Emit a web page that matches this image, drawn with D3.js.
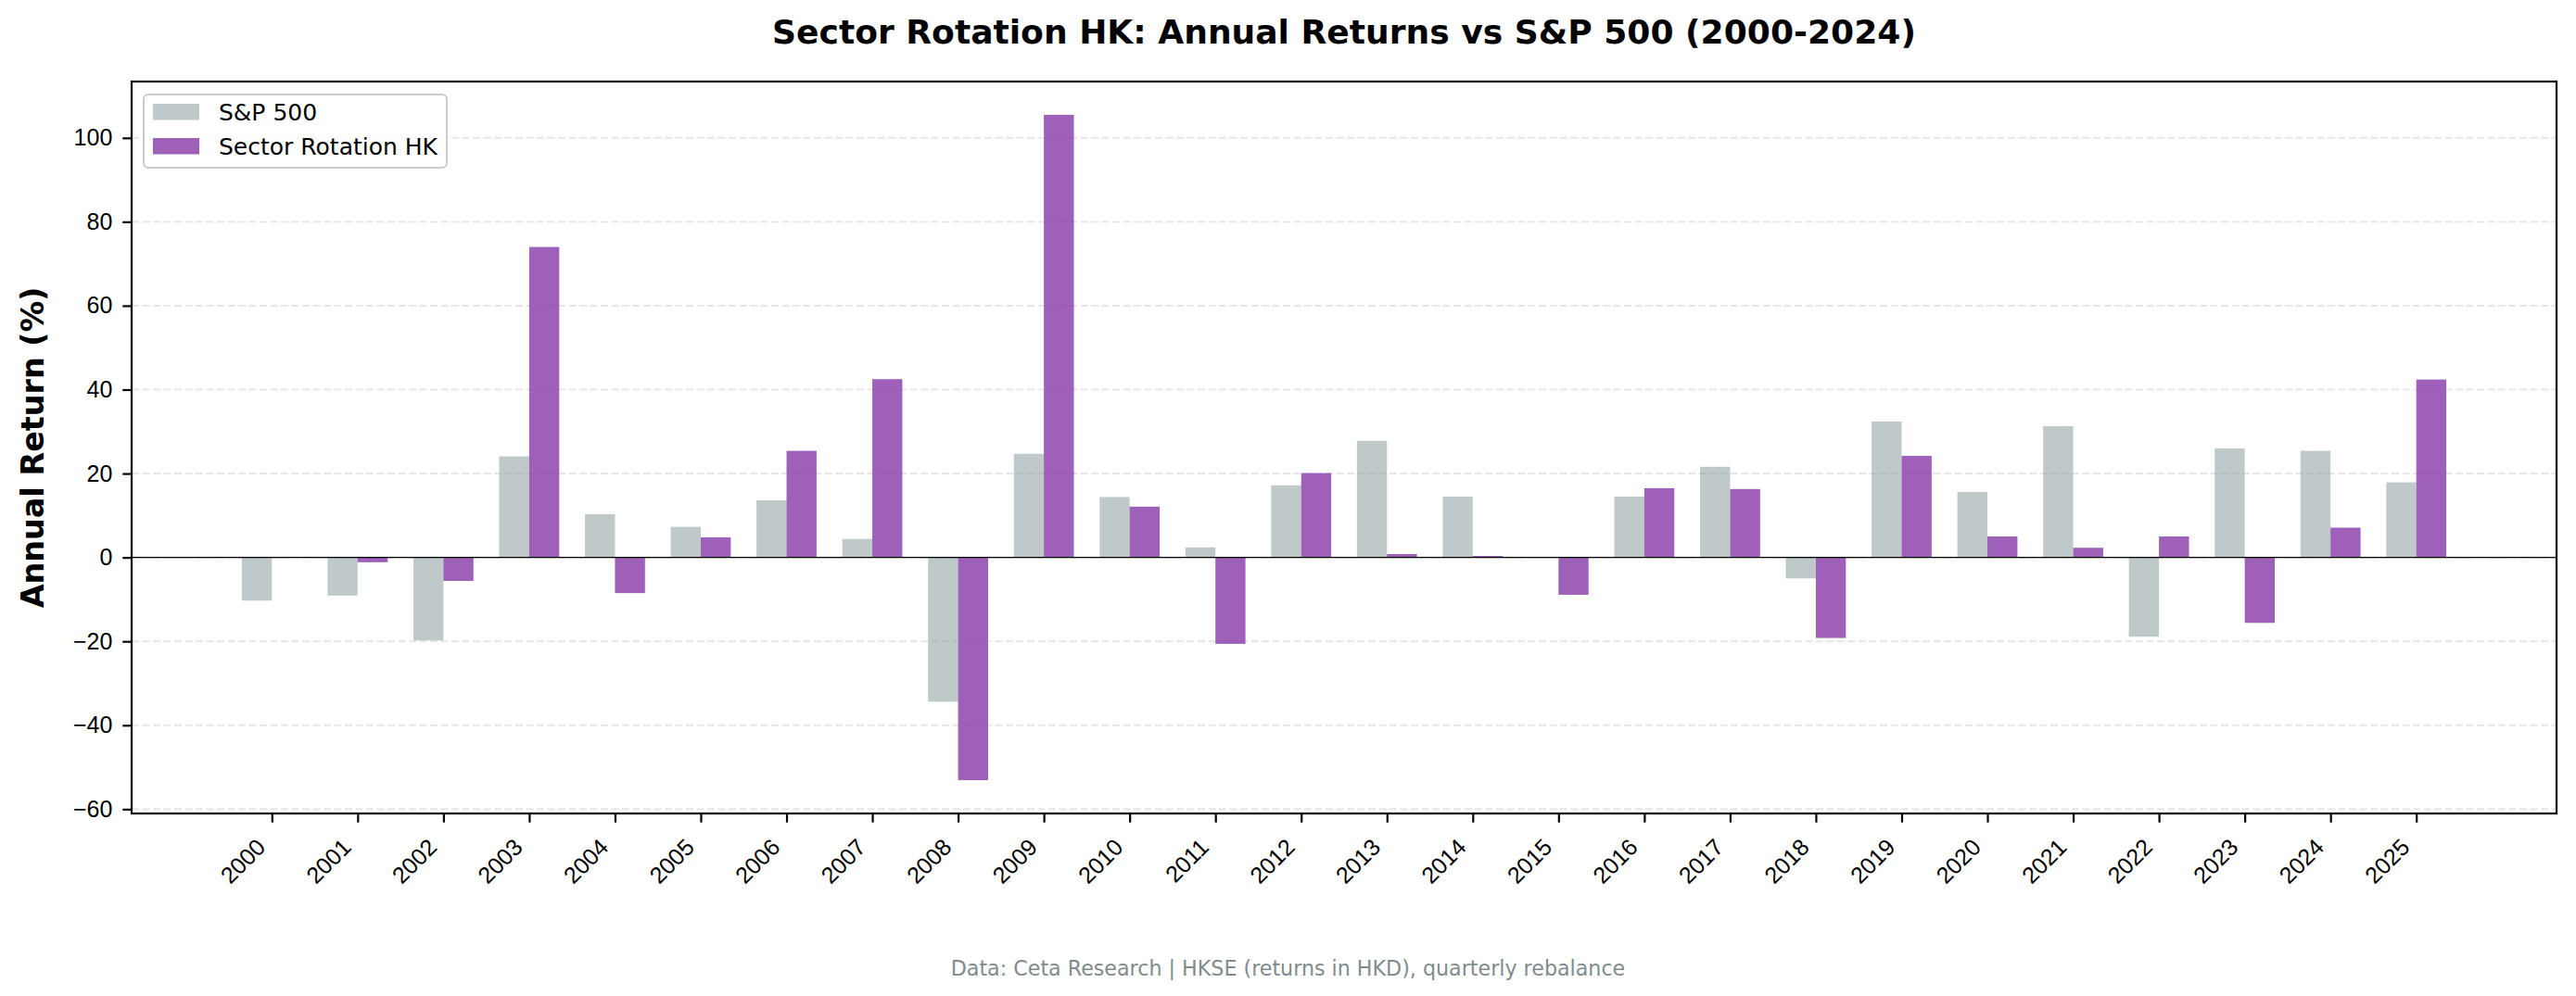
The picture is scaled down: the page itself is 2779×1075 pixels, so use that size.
<!DOCTYPE html>
<html>
<head>
    <script src="https://cdnjs.cloudflare.com/ajax/libs/d3/7.8.5/d3.min.js"></script>
    <style>
        body, html {
            margin: 0;
            padding: 0;
            background: #fff;
            overflow: hidden;
        }
        svg {
            display: block;
            font-family: "DejaVu Sans", sans-serif;
        }
        .grid line {
            stroke: #b0b0b0;
            stroke-opacity: 0.3;
            stroke-width: 2;
            stroke-dasharray: 8, 3.5;
        }
        .axis path, .axis line {
            stroke: #000;
            stroke-width: 2.2;
        }
        .axis text {
            font-size: 25px;
            fill: #000;
        }
    </style>
</head>
<body>
    <svg></svg>
    <script>
        // chart data
        const years = ["2000", "2001", "2002", "2003", "2004", "2005", "2006", "2007", "2008", "2009",
                       "2010", "2011", "2012", "2013", "2014", "2015", "2016", "2017", "2018", "2019",
                       "2020", "2021", "2022", "2023", "2024", "2025"];
        const spReturns = [-10.3, -9.1, -19.8, 24.1, 10.3, 7.3, 13.6, 4.4, -34.4, 24.7,
                           14.4, 2.4, 17.2, 27.8, 14.5, 0, 14.5, 21.6, -5.0, 32.4,
                           15.6, 31.3, -18.9, 26.0, 25.4, 17.9];
        const sectorReturns = [0, -1.15, -5.6, 74.0, -8.5, 4.8, 25.4, 42.5, -53.1, 105.5,
                               12.1, -20.6, 20.1, 0.8, 0.35, -8.9, 16.5, 16.3, -19.2, 24.2,
                               5.0, 2.3, 5.0, -15.6, 7.1, 42.4];
        const yTicks = [-60, -40, -20, 0, 20, 40, 60, 80, 100];
        const seriesNames = ["S&P 500", "Sector Rotation HK"];

        const width = 2779;
        const height = 1075;
        const margin = {top: 88, right: 21, bottom: 197, left: 142};
        const barW = 0.35;

        const svg = d3.select("svg")
            .attr("width", width)
            .attr("height", height);

        // x: index positions, padded like matplotlib's 5% auto margin
        const xLo = -barW, xHi = years.length - 1 + barW;
        const xPad = (xHi - xLo) * 0.05;
        const x = d3.scaleLinear()
            .domain([xLo - xPad, xHi + xPad])
            .range([margin.left, width - margin.right]);

        const all = spReturns.concat(sectorReturns, [0]);
        const yLo = d3.min(all), yHi = d3.max(all);
        const yPad = (yHi - yLo) * 0.05;
        const y = d3.scaleLinear()
            .domain([yLo - yPad, yHi + yPad])
            .range([height - margin.bottom, margin.top]);

        // grid
        svg.append("g")
            .attr("class", "grid")
            .selectAll("line")
            .data(yTicks)
            .join("line")
            .attr("x1", margin.left)
            .attr("x2", width - margin.right)
            .attr("y1", d => y(d))
            .attr("y2", d => y(d));

        const rows = years.map((yr, i) => ({i, sp: spReturns[i], sec: sectorReturns[i]}));

        // S&P bars
        svg.append("g")
            .selectAll("rect")
            .data(rows)
            .join("rect")
            .attr("x", d => x(d.i - barW))
            .attr("width", x(barW) - x(0))
            .attr("y", d => y(Math.max(0, d.sp)))
            .attr("height", d => Math.abs(y(d.sp) - y(0)))
            .attr("fill", "#95a5a6")
            .attr("fill-opacity", 0.6);

        // strategy bars
        svg.append("g")
            .selectAll("rect")
            .data(rows)
            .join("rect")
            .attr("x", d => x(d.i))
            .attr("width", x(barW) - x(0))
            .attr("y", d => y(Math.max(0, d.sec)))
            .attr("height", d => Math.abs(y(d.sec) - y(0)))
            .attr("fill", "#8e44ad")
            .attr("fill-opacity", 0.85);

        // zero line
        svg.append("line")
            .attr("x1", margin.left)
            .attr("x2", width - margin.right)
            .attr("y1", y(0))
            .attr("y2", y(0))
            .attr("stroke", "#000")
            .attr("stroke-width", 1.4);

        // axes
        const yAxis = svg.append("g")
            .attr("class", "axis")
            .attr("transform", `translate(${margin.left},0)`)
            .call(d3.axisLeft(y).tickValues(yTicks).tickSize(9.7).tickPadding(11)
                .tickFormat(d => d < 0 ? "\u2212" + Math.abs(d) : d));
        yAxis.select(".domain").remove();

        const xAxis = svg.append("g")
            .attr("class", "axis")
            .attr("transform", `translate(0,${height - margin.bottom})`)
            .call(d3.axisBottom(x).tickValues(d3.range(years.length)).tickSize(9.7)
                .tickFormat(i => years[i]));
        xAxis.select(".domain").remove();
        xAxis.selectAll("text")
            .attr("text-anchor", "end")
            .attr("y", 0)
            .attr("dy", 0)
            .attr("transform", "translate(-6,38) rotate(-45)");

        // frame
        svg.append("rect")
            .attr("x", margin.left)
            .attr("y", margin.top)
            .attr("width", width - margin.left - margin.right)
            .attr("height", height - margin.top - margin.bottom)
            .attr("fill", "none")
            .attr("stroke", "#000")
            .attr("stroke-width", 2.2);

        // legend
        const legend = svg.append("g").attr("transform", "translate(155,102)");
        legend.append("rect")
            .attr("width", 327)
            .attr("height", 79)
            .attr("rx", 5)
            .attr("fill", "#fff")
            .attr("fill-opacity", 0.8)
            .attr("stroke", "#cccccc")
            .attr("stroke-width", 2);
        const swatch = [["#95a5a6", 0.6], ["#8e44ad", 0.85]];
        seriesNames.forEach((name, k) => {
            legend.append("rect")
                .attr("x", 10)
                .attr("y", 10 + k * 37)
                .attr("width", 50)
                .attr("height", 17.5)
                .attr("fill", swatch[k][0])
                .attr("fill-opacity", swatch[k][1]);
            legend.append("text")
                .attr("x", 81)
                .attr("y", 28 + k * 37)
                .attr("font-size", 25)
                .text(name);
        });

        // titles
        svg.append("text")
            .attr("x", (margin.left + width - margin.right) / 2)
            .attr("y", 47)
            .attr("text-anchor", "middle")
            .attr("font-size", 36.1)
            .attr("font-weight", "bold")
            .text("Sector Rotation HK: Annual Returns vs S&P 500 (2000-2024)");

        svg.append("text")
            .attr("transform", `translate(47,${(margin.top + height - margin.bottom) / 2}) rotate(-90)`)
            .attr("text-anchor", "middle")
            .attr("font-size", 33.4)
            .attr("font-weight", "bold")
            .text("Annual Return (%)");

        svg.append("text")
            .attr("x", width / 2)
            .attr("y", 1053)
            .attr("text-anchor", "middle")
            .attr("font-size", 22.2)
            .attr("fill", "#7f8c8d")
            .text("Data: Ceta Research | HKSE (returns in HKD), quarterly rebalance");
    </script>
</body>
</html>
